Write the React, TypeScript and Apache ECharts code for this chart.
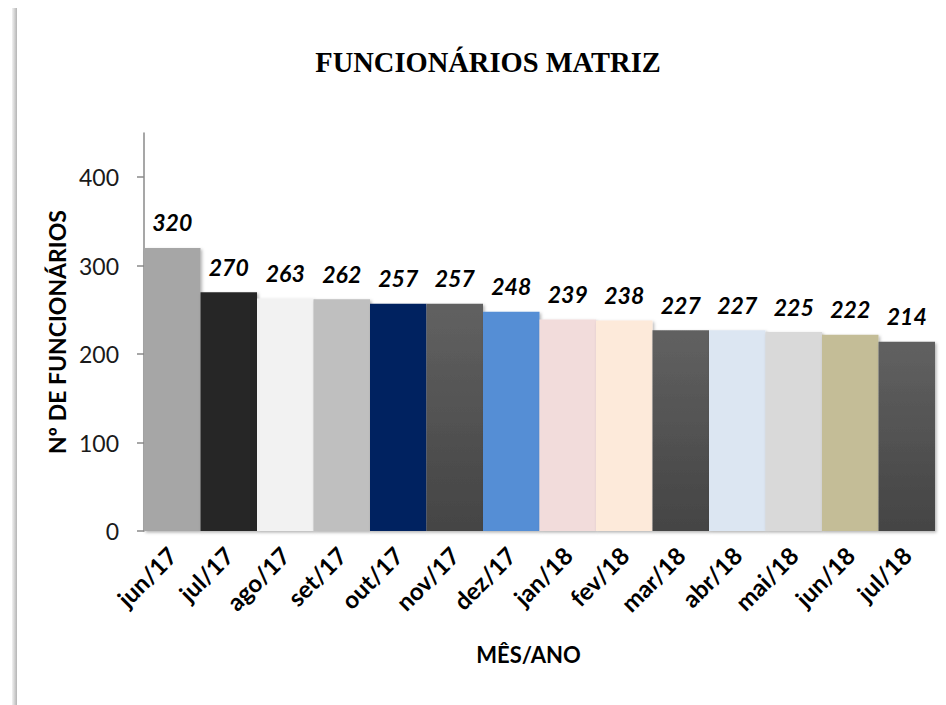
import React, { useEffect, useRef } from "react";
import * as echarts from "echarts";

const categories = ["jun/17", "jul/17", "ago/17", "set/17", "out/17", "nov/17", "dez/17", "jan/18", "fev/18", "mar/18", "abr/18", "mai/18", "jun/18", "jul/18"];
const values = [320, 270, 263, 262, 257, 257, 248, 239, 238, 227, 227, 225, 222, 214];
const barColors = ["#a6a6a6", "#262626", "#f2f2f2", "#bfbfbf", "#002060", "grad", "#558ed5", "#f2dcdb", "#fdeada", "grad", "#dce6f2", "#d9d9d9", "#c4bd97", "grad"];
const yTicks = [0, 100, 200, 300, 400];

const gradFill = () =>
  new echarts.graphic.LinearGradient(0, 0, 0, 1, [
    { offset: 0, color: "#616161" },
    { offset: 1, color: "#444444" },
  ]);

export default function App() {
  const ref = useRef<HTMLDivElement>(null);
  useEffect(() => {
    document.body.style.margin = "0";
    const chart = echarts.init(ref.current!, null, { renderer: "svg" });
    chart.setOption({
      animation: false,
      backgroundColor: "#ffffff",
      title: {
        text: "FUNCIONÁRIOS MATRIZ",
        left: 483,
        top: 43,
        textAlign: "center",
        textStyle: { fontFamily: "Liberation Serif", fontWeight: "bold", fontSize: 28.5, color: "#000" },
      },
      graphic: [
        {
          type: "rect",
          shape: { x: 12, y: 8, width: 5, height: 700 },
          style: {
            fill: new echarts.graphic.LinearGradient(0, 0, 1, 0, [
              { offset: 0, color: "#f2f2f2" },
              { offset: 1, color: "#b4b4b4" },
            ]),
          },
          silent: true,
        },
      ],
      grid: { left: 144, right: 11, top: 133, bottom: 174 },
      xAxis: {
        type: "category",
        data: categories,
        name: "MÊS/ANO",
        nameLocation: "middle",
        nameGap: 112,
        nameTextStyle: { fontFamily: "Lato", fontWeight: "bold", fontSize: 22, color: "#000", padding: [0, 22, 0, 0] },
        axisLine: { lineStyle: { color: "#8a8a8a", width: 1.5, shadowColor: "rgba(0,0,0,0.35)", shadowBlur: 3, shadowOffsetY: 2 } },
        axisTick: { show: false },
        axisLabel: { rotate: 45, margin: 20, interval: 0, fontFamily: "Lato", fontWeight: "bold", fontSize: 24, color: "#000" },
      },
      yAxis: {
        type: "value",
        min: 0,
        max: 450,
        interval: 50,
        name: "Nº DE FUNCIONÁRIOS",
        nameLocation: "middle",
        nameGap: 70,
        nameTextStyle: { fontFamily: "Lato", fontWeight: "bold", fontSize: 23, color: "#000" },
        axisLine: { show: true, lineStyle: { color: "#8a8a8a", width: 1.5 } },
        axisTick: { show: true, length: 7, customValues: yTicks, lineStyle: { color: "#8a8a8a", width: 1.5 } },
        axisLabel: { customValues: yTicks, margin: 25, fontFamily: "Lato", fontSize: 23, color: "#1a1a1a" },
        splitLine: { show: false },
      },
      series: [
        {
          type: "bar",
          barCategoryGap: "0%",
          data: values.map((v, i) => ({
            value: v,
            itemStyle: { color: barColors[i] === "grad" ? gradFill() : barColors[i] },
          })),
          itemStyle: { shadowColor: "rgba(0,0,0,0.3)", shadowBlur: 3, shadowOffsetX: 1.5, shadowOffsetY: 1.5 },
          label: {
            show: true,
            position: "top",
            distance: 14,
            fontFamily: "Lato",
            fontWeight: "bold",
            fontStyle: "italic",
            fontSize: 23,
            color: "#000",
          },
        },
      ],
    });
    return () => chart.dispose();
  }, []);
  return <div ref={ref} style={{ width: 946, height: 705, position: "fixed", left: 0, top: 0 }} />;
}
